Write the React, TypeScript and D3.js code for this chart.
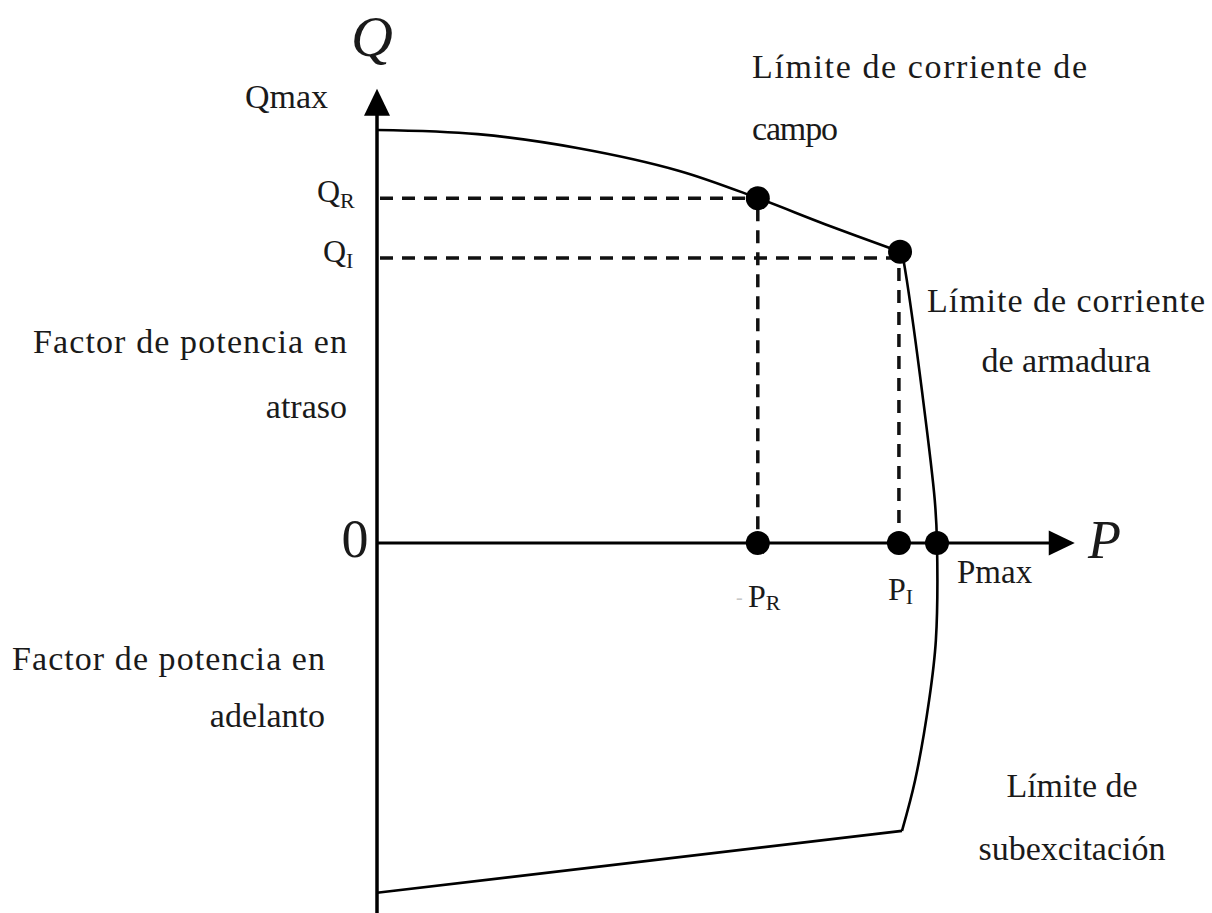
import React from "react";
import * as d3 from "d3";

// ---- Data (P and Q in per-unit, Pmax = 1, Qmax = 1) ----
const fieldLimitP = [0, 0.18, 0.36, 0.54, 0.68, 0.80, 0.934];
const fieldLimitQ = [1.0, 0.99, 0.956, 0.901, 0.835, 0.772, 0.705];

const armatureLimitP = [0.9375, 0.946, 0.973, 0.996, 1.0, 0.998, 0.986, 0.961, 0.9375];
const armatureLimitQ = [0.705, 0.637, 0.37, 0.104, 0, -0.235, -0.38, -0.574, -0.697];

const underexcP = [0.9375, 0];
const underexcQ = [-0.697, -0.847];

const markerNames = ["QR", "QI", "PR", "PI", "Pmax"];
const markerP = [0.68, 0.934, 0.68, 0.932, 1.0];
const markerQ = [0.835, 0.705, 0, 0, 0];

const dashLevelQ = [0.835, 0.69];
const dashLevelP = [0.68, 0.932];

const axisP = [0, 1.246];
const axisQ = [-0.9, 1.1];

const W = 1212;
const H = 913;
const FONT = "'Liberation Serif', 'Times New Roman', serif";
const INK = "#1a1a1a";

export default function App() {
  const x = d3.scaleLinear().domain([0, 1]).range([377, 937]);
  const y = d3.scaleLinear().domain([0, 1]).range([543, 130]);

  const toPts = (ps: number[], qs: number[]) => ps.map((p, i) => [p, qs[i]] as [number, number]);
  const smooth = d3
    .line<[number, number]>()
    .x((d) => x(d[0]))
    .y((d) => y(d[1]))
    .curve(d3.curveCatmullRom.alpha(0.5));
  const straight = d3
    .line<[number, number]>()
    .x((d) => x(d[0]))
    .y((d) => y(d[1]));

  const x0 = x(0);
  const y0 = y(0);
  const xTip = x(axisP[1]);
  const yTip = y(axisQ[1]);
  const yBottom = y(axisQ[0]);

  const txt = { fontFamily: FONT, fill: INK } as const;

  return (
    <svg
      width={W}
      height={H}
      style={{ position: "absolute", left: 0, top: 0, background: "#fff" }}
    >
      <rect x={0} y={0} width={W} height={H} fill="#fff" />
      {/* axes */}
      <line x1={x0} y1={yBottom} x2={x0} y2={yTip + 26} stroke="#000" strokeWidth={3.5} />
      <polygon points={`${x0},${yTip} ${x0 - 13},${yTip + 27} ${x0 + 13},${yTip + 27}`} fill="#000" />
      <line x1={x0} y1={y0} x2={xTip - 24} y2={y0} stroke="#000" strokeWidth={3} />
      <polygon points={`${xTip},${y0} ${xTip - 26},${y0 - 12.5} ${xTip - 26},${y0 + 12.5}`} fill="#000" />

      {/* dashed guides */}
      {dashLevelQ.map((q, i) => (
        <g key={"d" + i}>
          <line
            x1={x0 + 3}
            y1={y(q)}
            x2={x(dashLevelP[i])}
            y2={y(q)}
            stroke="#111"
            strokeWidth={3.5}
            strokeDasharray="13,9"
          />
          <line
            x1={x(dashLevelP[i])}
            y1={y(q) + 10}
            x2={x(dashLevelP[i])}
            y2={y0}
            stroke="#111"
            strokeWidth={3.5}
            strokeDasharray="13,9"
          />
        </g>
      ))}

      {/* limit curves */}
      <path d={smooth(toPts(fieldLimitP, fieldLimitQ)) || ""} fill="none" stroke="#000" strokeWidth={2.6} />
      <path d={smooth(toPts(armatureLimitP, armatureLimitQ)) || ""} fill="none" stroke="#000" strokeWidth={2.6} />
      <path d={straight(toPts(underexcP, underexcQ)) || ""} fill="none" stroke="#000" strokeWidth={2.6} />

      {/* markers */}
      {markerNames.map((n, i) => (
        <circle key={n} cx={x(markerP[i])} cy={y(markerQ[i])} r={12} fill="#000" />
      ))}

      {/* axis titles */}
      <text x={372} y={56} fontSize={58} fontStyle="italic" textAnchor="middle" {...txt}>Q</text>
      <text x={1088} y={558} fontSize={54} fontStyle="italic" {...txt}>P</text>
      <text x={355} y={557} fontSize={54} textAnchor="middle" {...txt}>0</text>

      {/* axis labels */}
      <text x={245} y={108} fontSize={34} {...txt}>Qmax</text>
      <text x={317} y={202} fontSize={32} {...txt}>
        Q<tspan fontSize={22} dy={6}>R</tspan>
      </text>
      <text x={323} y={262} fontSize={32} {...txt}>
        Q<tspan fontSize={22} dy={6}>I</tspan>
      </text>
      <text x={736} y={604} fontSize={20} fill="#c8c8c8" fontFamily={FONT}>-</text>
      <text x={748} y={607} fontSize={32} {...txt}>
        P<tspan fontSize={22} dy={3}>R</tspan>
      </text>
      <text x={888} y={600} fontSize={32} {...txt}>
        P<tspan fontSize={22} dy={4}>I</tspan>
      </text>
      <text x={957} y={583} fontSize={33} {...txt}>Pmax</text>

      {/* annotations */}
      <text x={752} y={78} fontSize={34} textLength={335} {...txt}>Límite de corriente de</text>
      <text x={752} y={140} fontSize={34} textLength={86} {...txt}>campo</text>

      <text x={927} y={312} fontSize={34} textLength={278} {...txt}>Límite de corriente</text>
      <text x={1066} y={372} fontSize={34} textAnchor="middle" {...txt}>de armadura</text>

      <text x={33} y={353} fontSize={34} textLength={314} {...txt}>Factor de potencia en</text>
      <text x={347} y={418} fontSize={34} textAnchor="end" {...txt}>atraso</text>

      <text x={12} y={670} fontSize={34} textLength={313} {...txt}>Factor de potencia en</text>
      <text x={325} y={727} fontSize={34} textAnchor="end" {...txt}>adelanto</text>

      <text x={1072} y={797} fontSize={34} textAnchor="middle" {...txt}>Límite de</text>
      <text x={1072} y={860} fontSize={34} textAnchor="middle" {...txt}>subexcitación</text>
    </svg>
  );
}
